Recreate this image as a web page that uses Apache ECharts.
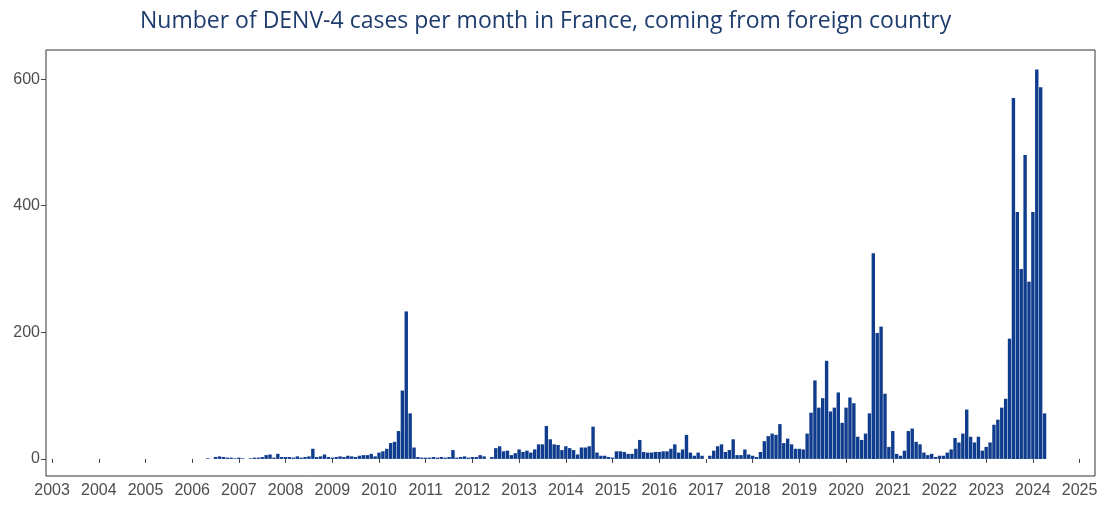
<!DOCTYPE html>
<html>
<head>
<meta charset="utf-8">
<title>DENV-4 cases per month</title>
<script src="https://cdn.jsdelivr.net/npm/echarts@6/dist/echarts.min.js"></script>
<style>
  html, body { margin: 0; padding: 0; background: #fff; }
  #denv-chart { width: 1101px; height: 506px; }
</style>
</head>
<body>
<div id="denv-chart"></div>
<script>
// monthly imported DENV-4 cases, Jan..Dec
const cases2006 = [0, 0, 0, 0, 1, 0, 3, 4, 3, 2, 2, 1];
const cases2007 = [2, 1, 0, 1, 2, 2, 3, 6, 7, 2, 8, 3];
const cases2008 = [3, 3, 2, 4, 2, 3, 4, 16, 3, 4, 7, 3];
const cases2009 = [2, 3, 4, 3, 5, 4, 3, 5, 6, 6, 8, 4];
const cases2010 = [10, 12, 16, 25, 27, 44, 108, 233, 72, 18, 3, 2];
const cases2011 = [2, 2, 3, 2, 3, 2, 3, 14, 2, 3, 4, 2];
const cases2012 = [3, 3, 6, 4, 0, 3, 17, 20, 12, 13, 6, 9];
const cases2013 = [15, 11, 13, 10, 15, 23, 23, 52, 31, 23, 22, 14];
const cases2014 = [20, 17, 14, 7, 18, 18, 20, 51, 10, 5, 5, 3];
const cases2015 = [2, 12, 12, 11, 8, 8, 16, 30, 11, 10, 10, 11];
const cases2016 = [11, 12, 12, 16, 23, 10, 15, 38, 10, 5, 10, 5];
const cases2017 = [0, 5, 13, 20, 23, 11, 14, 31, 6, 6, 15, 7];
const cases2018 = [5, 3, 11, 28, 36, 40, 38, 55, 25, 32, 23, 16];
const cases2019 = [16, 15, 40, 73, 124, 81, 96, 155, 75, 81, 105, 57];
const cases2020 = [81, 97, 88, 35, 30, 40, 72, 325, 199, 209, 103, 19];
const cases2021 = [44, 8, 5, 13, 44, 48, 27, 23, 10, 6, 8, 3];
const cases2022 = [5, 5, 10, 15, 33, 26, 40, 78, 35, 26, 35, 13];
const cases2023 = [19, 26, 54, 62, 81, 95, 190, 570, 390, 300, 480, 280];
const cases2024 = [390, 615, 587, 72];

const yearTicks = [2003, 2004, 2005, 2006, 2007, 2008, 2009, 2010, 2011, 2012, 2013,
  2014, 2015, 2016, 2017, 2018, 2019, 2020, 2021, 2022, 2023, 2024, 2025];
const countTicks = [0, 200, 400, 600];

const yearRows = [
  [2006, cases2006], [2007, cases2007], [2008, cases2008], [2009, cases2009],
  [2010, cases2010], [2011, cases2011], [2012, cases2012], [2013, cases2013],
  [2014, cases2014], [2015, cases2015], [2016, cases2016], [2017, cases2017],
  [2018, cases2018], [2019, cases2019], [2020, cases2020], [2021, cases2021],
  [2022, cases2022], [2023, cases2023], [2024, cases2024]
];

// one bar per month, placed at the first day of the month
let barData = [];
yearRows.forEach(function (row) {
  row[1].forEach(function (v, m) {
    barData.push([row[0] + m / 12, v]);
  });
});

let chart = echarts.init(document.getElementById("denv-chart"));

let option = {
  animation: false,
  title: {
    text: "Number of DENV-4 cases per month in France, coming from foreign country",
    left: 135,
    top: 5,
    textStyle: {
      fontFamily: "Open Sans",
      fontWeight: "normal",
      fontSize: 23,
      color: "#1f3c6e",
    },
  },
  grid: {
    left: 46,
    right: 6,
    top: 50,
    bottom: 30,
    show: true,
    borderColor: "#333",
    borderWidth: 1,
  },
  xAxis: {
    type: "value",
    min: 2002.87,
    max: 2025.33,
    splitLine: { show: false },
    axisLine: { show: false },
    axisTick: {
      show: true,
      length: 4,
      customValues: yearTicks,
      lineStyle: { color: "#444" },
    },
    axisLabel: {
      customValues: yearTicks,
      formatter: function (v) {
        return String(Math.round(v));
      },
      margin: 7,
      fontFamily: "Liberation Sans",
      fontSize: 16,
      color: "#4d4d4d",
    },
  },
  yAxis: {
    type: "value",
    min: -27,
    max: 646,
    splitLine: { show: false },
    axisLine: { show: false },
    axisTick: {
      show: true,
      length: 5,
      customValues: countTicks,
      lineStyle: { color: "#444" },
    },
    axisLabel: {
      customValues: countTicks,
      margin: 6,
      fontFamily: "Liberation Sans",
      fontSize: 16,
      color: "#4d4d4d",
    },
  },
  series: [
    {
      name: "DENV-4",
      type: "bar",
      data: barData,
      barWidth: 3.4,
      silent: true,
      itemStyle: {
        color: "#0f3c8c",
      },
    },
  ],
};

chart.setOption(option);
window.onresize = function () {
  chart.resize();
};
</script>
</body>
</html>
